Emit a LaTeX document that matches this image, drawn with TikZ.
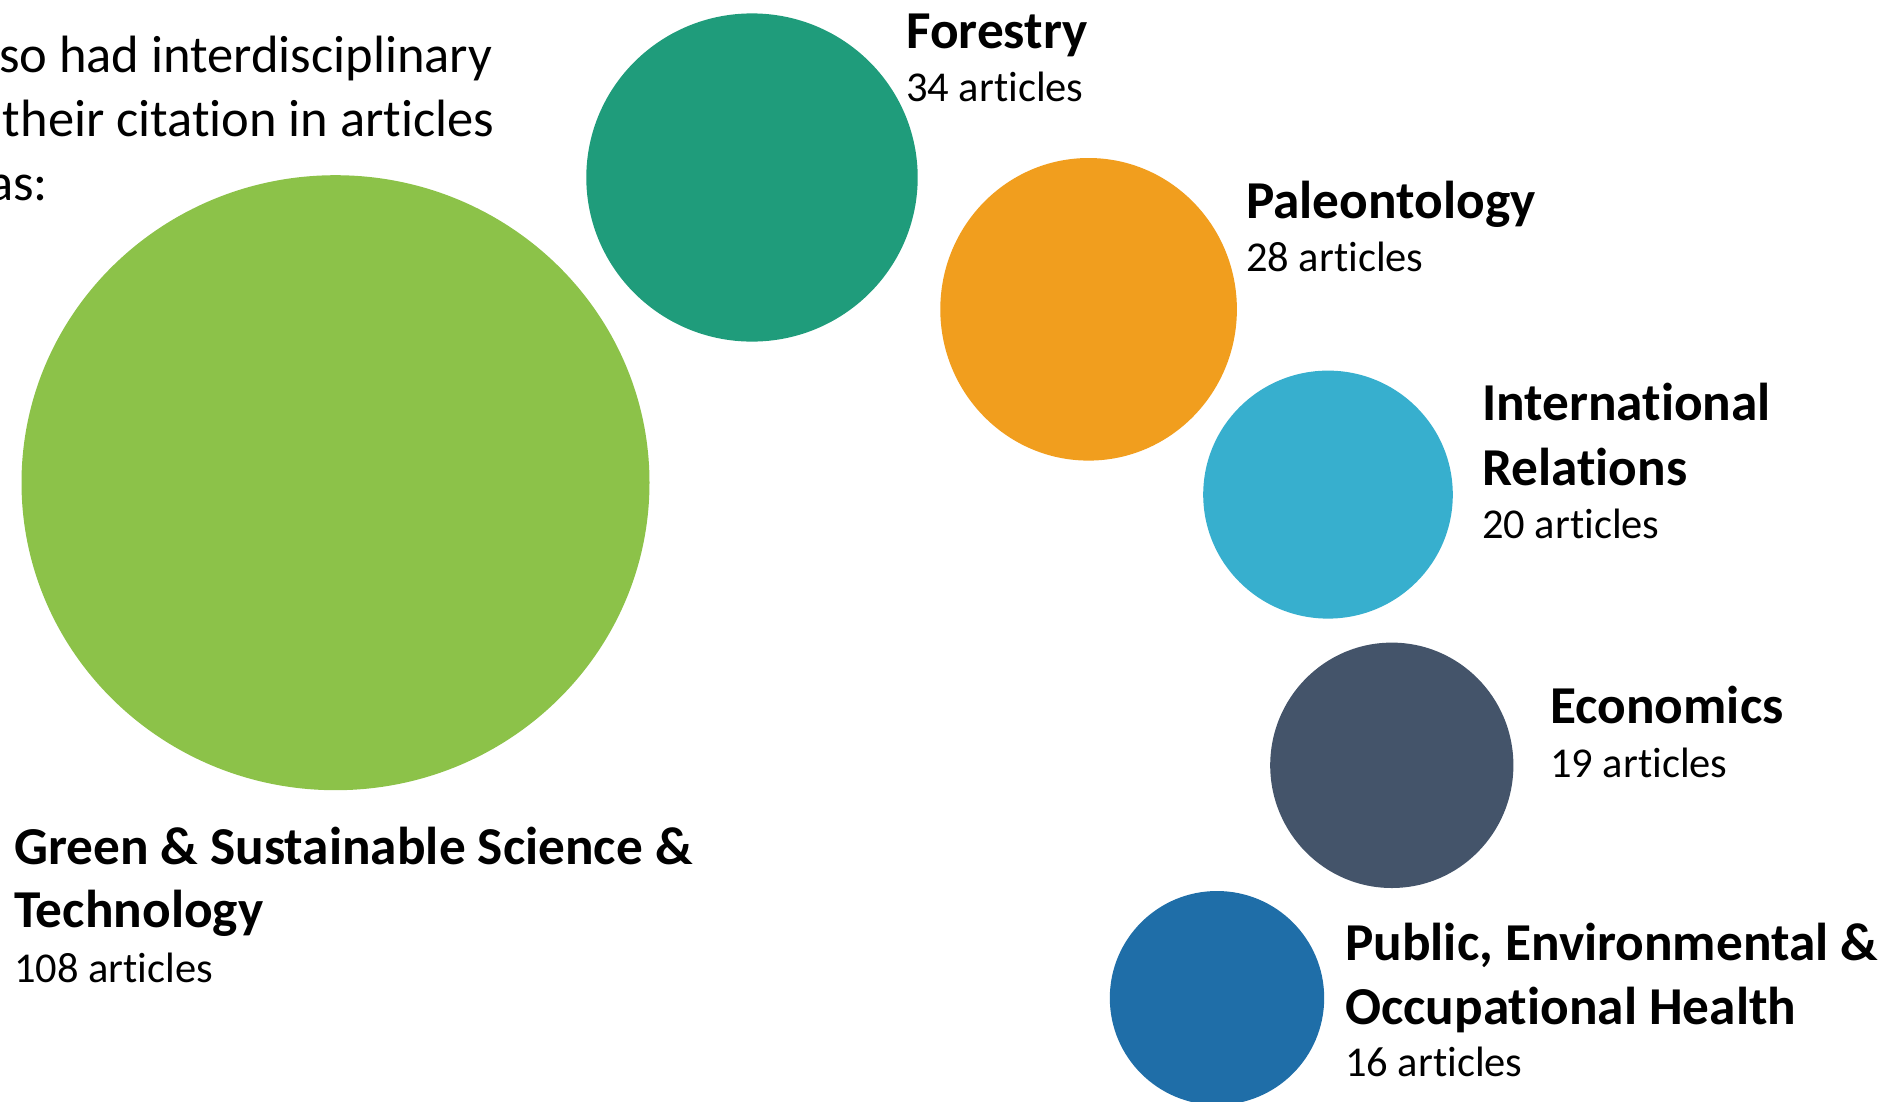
\documentclass[tikz,border=0pt]{standalone}
\usepackage{fontspec}
\setmainfont{Carlito}[Ligatures=NoCommon]
\usetikzlibrary{shapes.geometric}

\definecolor{bubgreen}{HTML}{8CC249}
\definecolor{bubteal}{HTML}{1F9C7B}
\definecolor{buborange}{HTML}{F19E1E}
\definecolor{bubsky}{HTML}{37AFCE}
\definecolor{bubslate}{HTML}{44546A}
\definecolor{bubblue}{HTML}{1F6EA8}

\tikzset{
  bubble/.style={ellipse, inner sep=0pt, draw=none},
  field/.style={anchor=base west, inner sep=0pt, font=\bfseries\fontsize{53.3}{64}\selectfont},
  count/.style={anchor=base west, inner sep=0pt, font=\fontsize{42.5}{51}\selectfont},
  intro/.style={anchor=base west, inner sep=0pt, font=\fontsize{52.5}{64}\selectfont}
}

\begin{document}
\begin{tikzpicture}[x=1pt,y=-1pt]
  \useasboundingbox (0,0) rectangle (1883,1101);

  % intro text, cut at the left edge
  \node[intro] (intro1) at (-1,72) {so had interdisciplinary};
  \node[intro] (intro2) at (2.7,136.5) {their citation in articles};
  \node[intro, anchor=base east] (intro3) at (48,200) {as:};

  % bubbles
  \node[bubble, fill=bubgreen, minimum width=628pt, minimum height=615pt] (green) at (335.5,482.7) {};
  \node[bubble, fill=bubteal, minimum width=331.4pt, minimum height=328.2pt] (forestry) at (752,177.5) {};
  \node[bubble, fill=buborange, minimum width=296.6pt, minimum height=302.6pt] (paleo) at (1088.6,309.3) {};
  \node[bubble, fill=bubsky, minimum width=249.6pt, minimum height=248pt] (intrel) at (1328,494.6) {};
  \node[bubble, fill=bubslate, minimum width=243.2pt, minimum height=245.4pt] (econ) at (1391.8,765.3) {};
  \node[bubble, fill=bubblue, minimum width=214.4pt, minimum height=214pt] (health) at (1217,998) {};

  % labels
  \node[field] (forestry-name) at (906,48.3) {Forestry};
  \node[count] (forestry-count) at (906,101.7) {34 articles};
  \node[field] (paleo-name) at (1246,218.3) {Paleontology};
  \node[count] (paleo-count) at (1246,271.7) {28 articles};
  \node[field] (intrel-name) at (1482,420.7) {International};
  \node[field] (intrel-name2) at (1482,485) {Relations};
  \node[count] (intrel-count) at (1482,538.3) {20 articles};
  \node[field] (econ-name) at (1550,723.3) {Economics};
  \node[count] (econ-count) at (1550,777.3) {19 articles};
  \node[field] (health-name) at (1345,960.7) {Public, Environmental \&};
  \node[field] (health-name2) at (1345,1024) {Occupational Health};
  \node[count] (health-count) at (1345,1076.5) {16 articles};
  \node[field] (green-name) at (14,864.5) {Green \& Sustainable Science \&};
  \node[field] (green-name2) at (14,927) {Technology};
  \node[count] (green-count) at (14,982.5) {108 articles};
\end{tikzpicture}
\end{document}
